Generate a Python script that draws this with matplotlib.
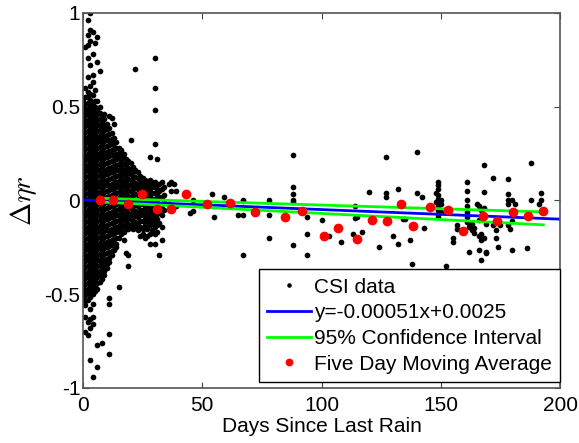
import matplotlib
matplotlib.use('Agg')
import matplotlib.pyplot as plt

# CSI data: one list of delta-eta-r values per day
csi_days = [0, 1, 2, 3, 4, 5, 6, 7, 8, 9, 10, 11, 12, 13, 14, 15, 16, 17, 18, 19,
            20, 21, 22, 23, 24, 25, 26, 27, 28, 29, 30, 31, 32, 33, 34, 36, 37, 38, 39,
            45, 46, 54, 55, 59, 65, 67, 78, 88, 94, 100, 103, 108, 113, 114, 115, 117,
            120, 124, 127, 130, 132, 134, 135, 137, 138, 140, 142, 143, 148, 149, 150,
            152, 155, 157, 161, 162, 163, 164, 165, 166, 167, 168, 169, 172, 173, 174,
            175, 178, 179, 180, 181, 186, 188, 191, 192]
csi_vals = [
    # day 0
    [0.53, 0.50, 0.47, 0.44, 0.41, 0.38, 0.35, 0.32, 0.29, 0.26, 0.23, 0.20, 0.17, 0.14, 0.11,
     0.08, 0.05, 0.02, -0.01, -0.04, -0.07, -0.10, -0.13, -0.16, -0.19, -0.22, -0.25, -0.28,
     -0.31, -0.34, -0.37, -0.40, -0.43, -0.46, -0.49, -0.52, -0.55],
    # day 1
    [0.82, 0.60, 0.55, 0.515, 0.485, 0.455, 0.425, 0.395, 0.365, 0.335, 0.305, 0.275, 0.245,
     0.215, 0.185, 0.155, 0.125, 0.095, 0.065, 0.035, 0.005, -0.025, -0.055, -0.085, -0.115,
     -0.145, -0.175, -0.205, -0.235, -0.265, -0.295, -0.325, -0.355, -0.385, -0.415, -0.445,
     -0.475, -0.505, -0.535, -0.56, -0.62, -0.70],
    # day 2
    [0.96, 0.88, 0.83, 0.76, 0.66, 0.58, 0.55, 0.52, 0.49, 0.46, 0.43, 0.40, 0.37, 0.34, 0.31,
     0.28, 0.25, 0.22, 0.19, 0.16, 0.13, 0.10, 0.07, 0.04, 0.01, -0.02, -0.05, -0.08, -0.11,
     -0.14, -0.17, -0.20, -0.23, -0.26, -0.29, -0.32, -0.35, -0.38, -0.41, -0.44, -0.47, -0.50,
     -0.53, -0.65, -0.72],
    # day 3
    [1.00, 0.91, 0.85, 0.72, 0.61, 0.57, 0.535, 0.505, 0.475, 0.445, 0.415, 0.385, 0.355, 0.325,
     0.295, 0.265, 0.235, 0.205, 0.175, 0.145, 0.115, 0.085, 0.055, 0.025, -0.005, -0.035,
     -0.065, -0.095, -0.125, -0.155, -0.185, -0.215, -0.245, -0.275, -0.305, -0.335, -0.365,
     -0.395, -0.425, -0.455, -0.485, -0.515, -0.58, -0.63, -0.68, -0.85],
    # day 4
    [0.90, 0.78, 0.67, 0.63, 0.56, 0.52, 0.49, 0.46, 0.43, 0.40, 0.37, 0.34, 0.31, 0.28, 0.25,
     0.22, 0.19, 0.16, 0.13, 0.10, 0.07, 0.04, 0.01, -0.02, -0.05, -0.08, -0.11, -0.14, -0.17,
     -0.20, -0.23, -0.26, -0.29, -0.32, -0.35, -0.38, -0.41, -0.44, -0.47, -0.50, -0.55, -0.62,
     -0.66, -0.94],
    # day 5
    [0.84, 0.59, 0.53, 0.50, 0.475, 0.445, 0.415, 0.385, 0.355, 0.325, 0.295, 0.265, 0.235,
     0.205, 0.175, 0.145, 0.115, 0.085, 0.055, 0.025, -0.005, -0.035, -0.065, -0.095, -0.125,
     -0.155, -0.185, -0.215, -0.245, -0.275, -0.305, -0.335, -0.365, -0.395, -0.425, -0.455,
     -0.485],
    # day 6
    [0.87, 0.74, 0.53, 0.49, 0.46, 0.43, 0.40, 0.37, 0.34, 0.31, 0.28, 0.25, 0.22, 0.19, 0.16,
     0.13, 0.10, 0.07, 0.04, 0.01, -0.02, -0.05, -0.08, -0.11, -0.14, -0.17, -0.20, -0.23,
     -0.26, -0.29, -0.32, -0.35, -0.38, -0.41, -0.44, -0.47, -0.77, -0.89],
    # day 7
    [0.69, 0.50, 0.465, 0.435, 0.405, 0.375, 0.345, 0.315, 0.285, 0.255, 0.225, 0.195, 0.165,
     0.135, 0.105, 0.075, 0.045, 0.015, -0.015, -0.045, -0.075, -0.105, -0.135, -0.165, -0.195,
     -0.225, -0.255, -0.285, -0.315, -0.345, -0.375, -0.405, -0.435],
    # day 8
    [0.45, 0.42, 0.39, 0.36, 0.33, 0.30, 0.27, 0.24, 0.21, 0.18, 0.15, 0.12, 0.09, 0.06, 0.03,
     0.00, -0.03, -0.06, -0.09, -0.12, -0.15, -0.18, -0.21, -0.24, -0.27, -0.30, -0.33, -0.36,
     -0.39, -0.42, -0.76],
    # day 9
    [0.46, 0.435, 0.405, 0.375, 0.345, 0.315, 0.285, 0.255, 0.225, 0.195, 0.165, 0.135, 0.105,
     0.075, 0.045, 0.015, -0.015, -0.045, -0.075, -0.105, -0.135, -0.165, -0.195, -0.225,
     -0.255, -0.285, -0.315, -0.345, -0.375, -0.40],
    # day 10
    [0.41, 0.38, 0.35, 0.32, 0.29, 0.26, 0.23, 0.20, 0.17, 0.14, 0.11, 0.08, 0.05, 0.02, -0.01,
     -0.04, -0.07, -0.10, -0.13, -0.16, -0.19, -0.22, -0.25, -0.28, -0.31, -0.34, -0.36],
    # day 11
    [0.45, 0.385, 0.355, 0.325, 0.295, 0.265, 0.235, 0.205, 0.175, 0.145, 0.115, 0.085, 0.055,
     0.025, -0.005, -0.035, -0.065, -0.095, -0.125, -0.155, -0.185, -0.215, -0.245, -0.275,
     -0.305, -0.33, -0.52, -0.55, -0.71, -0.82],
    # day 12
    [0.44, 0.36, 0.33, 0.30, 0.27, 0.24, 0.21, 0.18, 0.15, 0.12, 0.09, 0.06, 0.03, 0.00, -0.03,
     -0.06, -0.09, -0.12, -0.15, -0.18, -0.21, -0.24, -0.27, -0.29],
    # day 13
    [0.41, 0.335, 0.305, 0.275, 0.245, 0.215, 0.185, 0.155, 0.125, 0.095, 0.065, 0.035, 0.005,
     -0.025, -0.055, -0.085, -0.115, -0.145, -0.175, -0.205, -0.235, -0.265],
    # day 14
    [0.31, 0.28, 0.25, 0.22, 0.19, 0.16, 0.13, 0.10, 0.07, 0.04, 0.01, -0.02, -0.05, -0.08,
     -0.11, -0.14, -0.17, -0.20, -0.23, -0.25],
    # day 15
    [0.28, 0.255, 0.225, 0.195, 0.165, 0.135, 0.105, 0.075, 0.045, 0.015, -0.015, -0.045,
     -0.075, -0.105, -0.135, -0.165, -0.20, -0.46],
    # day 16
    [0.27, 0.24, 0.21, 0.18, 0.15, 0.12, 0.09, 0.06, 0.03, 0.00, -0.03, -0.06, -0.09, -0.12,
     -0.15, -0.18],
    # day 17
    [0.25, 0.225, 0.195, 0.165, 0.135, 0.105, 0.075, 0.045, 0.015, -0.015, -0.045, -0.075,
     -0.105, -0.135, -0.17, -0.21],
    # day 18
    [0.22, 0.19, 0.16, 0.13, 0.10, 0.07, 0.04, 0.01, -0.02, -0.05, -0.08, -0.11, -0.14, -0.28],
    # day 19
    [0.21, 0.175, 0.145, 0.115, 0.085, 0.055, 0.025, -0.005, -0.035, -0.065, -0.095, -0.125,
     -0.15, -0.29, -0.35],
    # day 20
    [0.32, 0.20, 0.17, 0.14, 0.11, 0.08, 0.05, 0.02, -0.01, -0.04, -0.07, -0.10, -0.13],
    # day 21
    [0.18, 0.15, 0.12, 0.09, 0.06, 0.03, 0.00, -0.03, -0.06, -0.09, -0.12, -0.15],
    # day 22
    [0.70, 0.16, 0.125, 0.095, 0.065, 0.035, 0.005, -0.025, -0.055, -0.085, -0.115, -0.14],
    # day 23
    [0.15, 0.12, 0.09, 0.06, 0.03, 0.00, -0.03, -0.06, -0.09, -0.12, -0.16],
    # day 24
    [0.13, 0.10, 0.07, 0.04, 0.01, -0.02, -0.05, -0.08, -0.11, -0.14, -0.19],
    # day 25
    [0.12, 0.09, 0.06, 0.03, -0.02, -0.05, -0.08, -0.11, -0.15, -0.18],
    # day 26
    [0.11, 0.08, 0.05, 0.02, -0.01, -0.04, -0.07, -0.10, -0.13, -0.20],
    # day 27
    [0.10, 0.07, 0.04, 0.01, -0.02, -0.05, -0.08, -0.11, -0.15, -0.19],
    # day 28
    [0.23, 0.11, 0.08, 0.05, 0.02, -0.01, -0.04, -0.07, -0.10, -0.13, -0.18, -0.23],
    # day 29
    [0.10, 0.07, 0.04, 0.01, -0.03, -0.06, -0.09, -0.12, -0.16],
    # day 30
    [0.76, 0.60, 0.48, 0.30, 0.10, 0.07, 0.04, 0.01, -0.02, -0.05, -0.08, -0.11, -0.14, -0.18,
     -0.23],
    # day 31
    [0.22, 0.09, 0.06, 0.03, 0.00, -0.04, -0.07, -0.10, -0.13, -0.17],
    # day 32
    [0.09, 0.05, 0.02, -0.02, -0.06, -0.12, -0.29],
    # day 33
    [0.10, 0.06, 0.02, -0.04, -0.08, -0.14, -0.21],
    # day 34
    [0.07, 0.03, -0.01, -0.05],
    [0.09, -0.02],
    [0.10, 0.05],
    [0.09],
    [0.05, -0.03],
    [-0.065],
    [0.005, -0.055],
    [0.035],
    [-0.09],
    [0.017],
    [-0.075],
    [0.005, -0.005, -0.075, -0.29],
    [0.005, -0.08, -0.20],
    [0.24, 0.07, 0.035, 0.005, -0.01, -0.24],
    [-0.09, -0.18, -0.29],
    [-0.105],
    [-0.19],
    [-0.22],
    [-0.18],
    [-0.03, -0.095],
    [-0.09],
    [-0.17],
    [0.044],
    [-0.25],
    [0.23, 0.04, 0.02],
    [-0.19],
    [0.06, -0.23],
    [-0.10],
    [-0.10],
    [-0.21],
    [-0.34],
    [0.26, 0.04],
    [0.02],
    [-0.145],
    [0.04, -0.01],
    [0.10, 0.08, 0.06, 0.03, 0.01, -0.01, -0.03, -0.05, -0.07, -0.09],
    [0.00, -0.02, -0.06],
    [-0.35],
    [-0.20, -0.22],
    [-0.13, -0.15],
    [0.097, 0.05, 0.0, -0.027, -0.062, -0.089, -0.115],
    [-0.12, -0.14, -0.275],
    [-0.128, -0.16],
    [-0.145, -0.176],
    [-0.02],
    [-0.03, -0.106, -0.19, -0.265],
    [-0.05, -0.177, -0.21, -0.315],
    [0.19, 0.044, -0.04, -0.20],
    [-0.128, -0.275, -0.28],
    [0.12, -0.13],
    [-0.16, -0.20],
    [-0.25],
    [-0.13],
    [0.115, 0.035, 0.0, -0.02, -0.13],
    [-0.15],
    [0.0, -0.11, -0.266],
    [-0.02],
    [-0.254],
    [0.20, 0.0],
    [-0.02],
    [0.04, 0.0],
]

# linear fit and confidence interval
fit_slope = -0.00051
fit_icept = 0.0025
fit_days = [0, 200]
ci_days = [7, 193]
ci_upper = [0.012, -0.061]
ci_lower = [-0.008, -0.130]

# five day moving average
ma_days = [7, 12.4, 19, 24.6, 31, 37, 43, 52, 61.5, 72, 84.7, 92, 101, 107, 115, 121.3,
           127.3, 133.3, 138.5, 145.5, 153.2, 159.5, 167.6, 173.4, 180.4, 186.7, 192.7]
ma_vals = [0.0, 0.005, -0.018, 0.032, -0.045, -0.048, 0.037, -0.018, -0.014, -0.06, -0.089,
           -0.055, -0.188, -0.145, -0.206, -0.103, -0.11, -0.021, -0.138, -0.035, -0.05,
           -0.165, -0.085, -0.11, -0.062, -0.085, -0.057]

plt.rcParams['font.family'] = ['Liberation Sans', 'DejaVu Sans']
plt.rcParams['mathtext.fontset'] = 'cm'
plt.rcParams['axes.unicode_minus'] = False

fig = plt.figure(figsize=(5.79, 4.43), dpi=100)
ax = fig.add_axes([0.1434, 0.1242, 0.8238, 0.8465])

xs = []
ys = []
for d, vals in zip(csi_days, csi_vals):
    for v in vals:
        xs.append(d)
        ys.append(v)

ax.plot(xs, ys, 'o', color='k', ms=4.1, mew=0, linestyle='none', label='CSI data')
ax.plot(fit_days, [fit_slope * d + fit_icept for d in fit_days], color='#0000ff', lw=2,
        label='y=-0.00051x+0.0025')
ax.plot(ci_days, ci_upper, color='#00ff00', lw=2, label='95% Confidence Interval')
ax.plot(ci_days, ci_lower, color='#00ff00', lw=2)
ax.plot(ma_days, ma_vals, 'o', color='#ff0000', ms=7, mew=0, linestyle='none',
        label='Five Day Moving Average')

ax.set_xlim(0, 200)
ax.set_ylim(-1, 1)
ax.set_xticks([0, 50, 100, 150, 200])
ax.set_yticks([-1, -0.5, 0, 0.5, 1])
ax.set_yticklabels(['-1', '-0.5', '0', '0.5', '1'])
ax.tick_params(direction='in', top=True, right=True, length=4, width=0.8,
               labelsize=15, color='#444444')
ax.tick_params(axis='y', pad=2)
ax.tick_params(axis='x', pad=6)
for s in ax.spines.values():
    s.set_color('#555555')
    s.set_linewidth(1.2)

ax.set_xlabel('Days Since Last Rain', fontsize=15, labelpad=1)
ax.set_ylabel(r'$\Delta\eta r$', fontsize=20, labelpad=4)

leg = ax.legend(loc='lower right', bbox_to_anchor=(1.0, 0.016), borderaxespad=0,
                fontsize=15, fancybox=False, framealpha=1, edgecolor='k',
                labelspacing=0.32, handlelength=2.1, handletextpad=0.15,
                borderpad=0.4, numpoints=1, markerscale=0.8)
leg.get_frame().set_linewidth(1)

fig.savefig('out.png', dpi=100)
